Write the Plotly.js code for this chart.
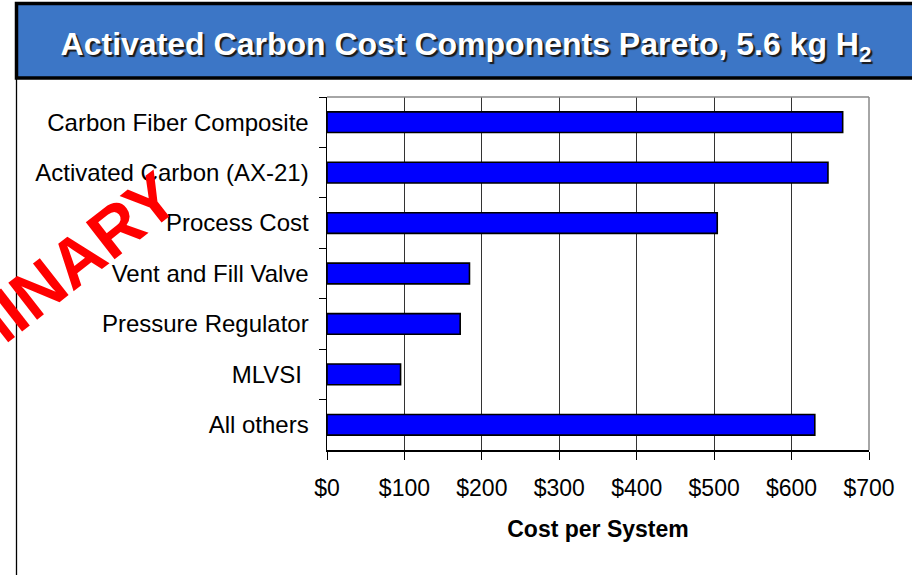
<!DOCTYPE html>
<html>
<head>
<meta charset="utf-8">
<script src="https://cdn.plot.ly/plotly-3.0.1.min.js"></script>
<style>html,body{margin:0;padding:0;background:#fff;}#chart{width:912px;height:575px;}</style>
</head>
<body>
<div id="chart"></div>
<script>
const categories = ["Carbon Fiber Composite", "Activated Carbon (AX-21)", "Process Cost", "Vent and Fill Valve", "Pressure Regulator", "MLVSI\u00a0", "All others"];
const costValues = [666, 647, 504, 184, 172, 95, 630];
const xTickValues = [0, 100, 200, 300, 400, 500, 600, 700];
const xTickLabels = ["$0", "$100", "$200", "$300", "$400", "$500", "$600", "$700"];
const chartTitle = "Activated Carbon Cost Components Pareto, 5.6 kg H<sub>2</sub>";
const xAxisTitle = "Cost per System";
const watermark = "PRELIMINARY";

const W = 912, H = 575;
const M = {l: 327, r: 43, t: 97, b: 125};
const PW = W - M.l - M.r, PH = H - M.t - M.b;
const px = x => (x - M.l) / PW;
const py = y => (H - M.b - y) / PH;
const FONT = "Liberation Sans, Arial, sans-serif";

const trace = {
  type: "bar",
  orientation: "h",
  y: categories,
  x: costValues,
  marker: {color: "#0000FF", line: {color: "#000000", width: 1.6}},
  hoverinfo: "x+y"
};

const layout = {
  width: W, height: H,
  margin: M,
  paper_bgcolor: "#ffffff",
  plot_bgcolor: "#ffffff",
  showlegend: false,
  bargap: 0.59,
  font: {family: FONT, color: "#000"},
  title: {
    text: chartTitle,
    x: 466 / W, xref: "container", xanchor: "center",
    y: 1 - 44 / H, yref: "container", yanchor: "middle",
    font: {family: FONT, size: 32, color: "#ffffff", weight: "bold", shadow: "2px 2px 1px #1a1a1a"}
  },
  xaxis: {
    range: [0, 700],
    tickmode: "array",
    tickvals: xTickValues,
    ticktext: xTickLabels,
    showgrid: true, gridcolor: "#333333", gridwidth: 1,
    zeroline: false,
    showline: true, linecolor: "#000", linewidth: 2,
    ticks: "outside", ticklen: 8, tickcolor: "#000", tickwidth: 1,
    ticklabelstandoff: 8,
    tickfont: {family: FONT, size: 23, color: "#000"},
    title: {text: xAxisTitle, font: {family: FONT, size: 23, weight: "bold", color: "#000"}, standoff: 21},
    fixedrange: true
  },
  yaxis: {
    type: "category",
    categoryorder: "array",
    categoryarray: categories,
    autorange: "reversed",
    showgrid: false, zeroline: false,
    showline: true, linecolor: "#000", linewidth: 1.5,
    ticks: "outside", ticklen: 7, tickcolor: "#000", tickwidth: 1,
    tickson: "boundaries",
    ticklabelstandoff: 12,
    tickfont: {family: FONT, size: 24, color: "#000"},
    fixedrange: true
  },
  shapes: [
    {type: "rect", xref: "paper", yref: "paper", x0: px(16.5), x1: px(916), y0: py(78), y1: py(3.5),
     fillcolor: "#3C76C6", line: {color: "#000", width: 3.5}, layer: "below"},
    {type: "line", xref: "paper", yref: "paper", x0: px(16.5), x1: px(16.5), y0: py(79), y1: py(576),
     line: {color: "#000", width: 1.3}},
    {type: "line", xref: "paper", yref: "paper", x0: 0, x1: 1, y0: 1, y1: 1,
     line: {color: "#888888", width: 1.5}, layer: "above"},
    {type: "line", xref: "paper", yref: "paper", x0: 1, x1: 1, y0: 0, y1: 1,
     line: {color: "#888888", width: 1.5}, layer: "above"}
  ],
  annotations: [
    {text: watermark, xref: "paper", yref: "paper", x: px(-15), y: py(330),
     xanchor: "center", yanchor: "middle", showarrow: false, textangle: -38,
     font: {family: FONT, size: 68, weight: "bold", color: "#FF0000"}}
  ]
};

Plotly.newPlot("chart", [trace], layout, {displayModeBar: false, staticPlot: true});
</script>
</body>
</html>
